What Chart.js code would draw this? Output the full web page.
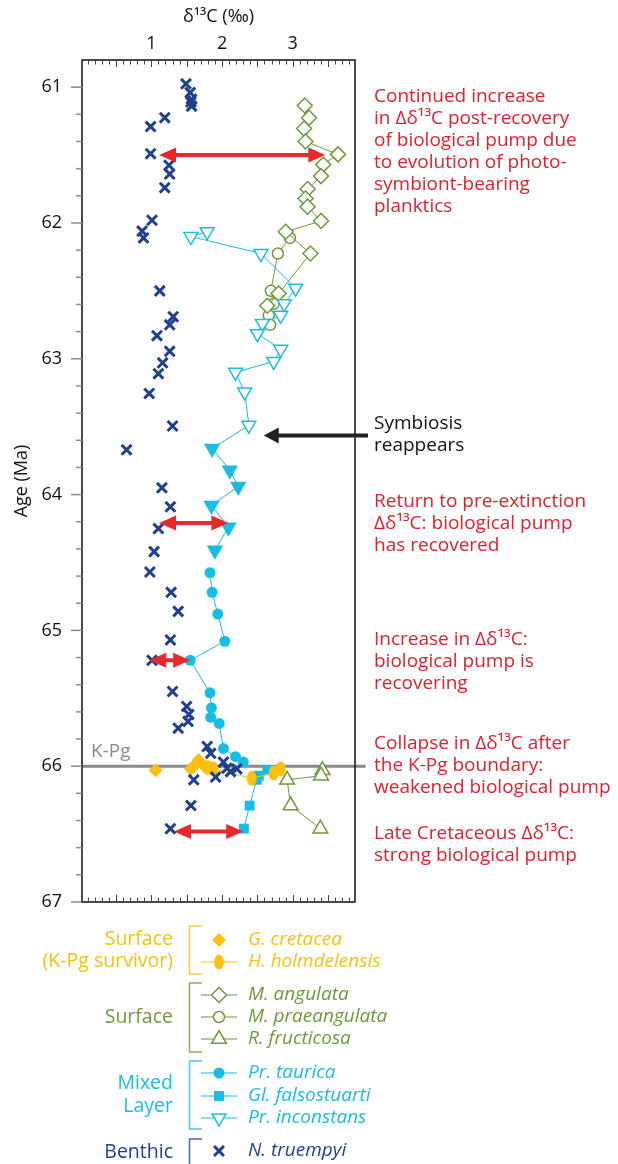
<!DOCTYPE html>
<html lang="en">
<head>
<meta charset="UTF-8">
<title>δ13C across the K-Pg boundary</title>
<script src="https://cdn.jsdelivr.net/npm/chart.js@4.4.1/dist/chart.umd.min.js"></script>
<style>
  html, body { margin: 0; padding: 0; background: #fff; }
  #wrap { position: relative; width: 618px; height: 1164px; }
</style>
</head>
<body>
<div id="wrap"><canvas id="myChart"></canvas></div>
<script>
// delta13C (per mil) against age (Ma)

// Benthic
const truempyiD13C = [1.49, 1.55, 1.57, 1.56, 1.57, 1.19, 0.99, 0.99, 1.25, 1.26, 1.19, 1.01, 0.87, 0.89,
  1.12, 1.31, 1.26, 1.08, 1.26, 1.16, 1.10, 0.97, 1.30, 0.65, 1.15, 1.27, 1.10, 1.04, 0.98, 1.28, 1.38,
  1.27, 1.01, 1.30, 1.50, 1.53, 1.52, 1.38, 1.79, 1.84, 2.02, 2.07, 2.12, 2.21, 1.91, 1.60, 1.56, 1.27];
const truempyiAge = [60.975, 61.04, 61.09, 61.11, 61.14, 61.225, 61.29, 61.49, 61.575, 61.64, 61.74, 61.98, 62.06, 62.11,
  62.50, 62.69, 62.75, 62.83, 62.945, 63.03, 63.11, 63.255, 63.495, 63.67, 63.95, 64.09, 64.25, 64.42, 64.57, 64.72, 64.86,
  65.07, 65.22, 65.45, 65.56, 65.62, 65.67, 65.72, 65.855, 65.905, 65.97, 66.015, 66.04, 66.02, 66.08, 66.10, 66.29, 66.46];

// Surface (K-Pg survivor)
const cretaceaD13C = [1.06, 1.56, 1.62, 1.67, 1.75];
const cretaceaAge = [66.03, 66.02, 65.99, 65.955, 66.0];
const holmdelensisD13C = [1.80, 1.88, 2.42, 2.73, 2.83];
const holmdelensisAge = [66.01, 66.02, 66.09, 66.05, 66.02];

// Surface
const angulataD13C = [3.17, 3.23, 3.16, 3.18, 3.64, 3.43, 3.40, 3.21, 3.18, 3.21, 3.40, 2.90, 3.25, 2.80, 2.64];
const angulataAge = [61.135, 61.225, 61.305, 61.40, 61.495, 61.57, 61.655, 61.75, 61.82, 61.88, 61.985, 62.065, 62.225, 62.52, 62.61];
const praeangulataD13C = [2.96, 2.79, 2.69, 2.73, 2.66, 2.68];
const praeangulataAge = [62.11, 62.225, 62.50, 62.595, 62.68, 62.75];
const fructicosaD13C = [3.42, 3.40, 2.92, 2.97, 3.39];
const fructicosaAge = [66.03, 66.07, 66.10, 66.29, 66.46];

// Mixed layer
const tauricaD13C = [1.83, 1.86, 1.94, 2.04, 1.55, 1.83, 1.85, 1.84, 1.96, 2.02, 2.19, 2.30];
const tauricaAge = [64.575, 64.72, 64.88, 65.08, 65.22, 65.46, 65.57, 65.64, 65.685, 65.87, 65.93, 65.97];
const falsostuartiD13C = [2.64, 2.52, 2.49, 2.39, 2.31];
const falsostuartiAge = [66.03, 66.07, 66.10, 66.29, 66.46];
const inconstansD13C = [1.79, 1.56, 2.55, 3.04, 2.88, 2.83, 2.57, 2.50, 2.83, 2.73, 2.19, 2.32, 2.38,
  1.86, 2.11, 2.23, 1.85, 2.09, 1.90];
const inconstansAge = [62.065, 62.10, 62.225, 62.48, 62.595, 62.68, 62.74, 62.815, 62.93, 63.02, 63.10, 63.245, 63.49,
  63.66, 63.82, 63.94, 64.08, 64.24, 64.41];

const xTickLabels = [1, 2, 3];
const yTickLabels = [61, 62, 63, 64, 65, 66, 67];

// red double arrows (delta13C offset between benthic and planktic)
const arrowAge = [61.5, 64.21, 65.22, 66.48];
const arrowFrom = [1.11, 1.11, 0.97, 1.32];
const arrowTo = [3.46, 2.09, 1.55, 2.30];

const kpgAge = 66.0;
const symbiosisAge = 63.565;

const notes = [
  ['Continued increase', 'in Δδ¹³C post-recovery', 'of biological pump due', 'to evolution of photo-', 'symbiont-bearing', 'planktics'],
  ['Symbiosis', 'reappears'],
  ['Return to pre-extinction', 'Δδ¹³C: biological pump', 'has recovered'],
  ['Increase in Δδ¹³C:', 'biological pump is', 'recovering'],
  ['Collapse in Δδ¹³C after', 'the K-Pg boundary:', 'weakened biological pump'],
  ['Late Cretaceous Δδ¹³C:', 'strong biological pump']
];

const YELLOW = '#F8C10F';
const GREEN = '#6B9B3A';
const CYAN = '#17BDE5';
const BLUE = '#213F8F';
const RED = '#E8282B';
const RED_TEXT = '#E2202C';
const GREY = '#8a8a8a';
const FONT = '"Open Sans", sans-serif';

const pts = (xs, ys) => xs.map((x, i) => ({ x, y: ys[i] }));

function ovalMarker(w, h, color) {
  const c = document.createElement('canvas');
  c.width = w; c.height = h;
  const g = c.getContext('2d');
  g.fillStyle = color;
  g.beginPath();
  g.ellipse(w / 2, h / 2, w / 2 - 0.5, h / 2 - 0.5, 0, 0, Math.PI * 2);
  g.fill();
  return c;
}
const oval = ovalMarker(11, 16, YELLOW);

function series(label, xs, ys, color, style, extra) {
  return Object.assign({
    label,
    data: pts(xs, ys),
    showLine: true,
    borderColor: color,
    borderWidth: 1,
    pointStyle: style,
    pointBorderColor: color,
    pointBackgroundColor: color,
    pointBorderWidth: 1.5,
    pointRadius: 5,
    clip: false
  }, extra);
}

const datasets = [
  series('N. truempyi', truempyiD13C, truempyiAge, BLUE, 'crossRot', { showLine: false, pointRadius: 7, pointBorderWidth: 3 }),
  series('G. cretacea', cretaceaD13C, cretaceaAge, YELLOW, 'rectRot', { showLine: false, pointRadius: 7, pointBorderWidth: 0 }),
  series('H. holmdelensis', holmdelensisD13C, holmdelensisAge, YELLOW, oval, { pointBorderWidth: 0 }),
  series('Pr. taurica', tauricaD13C, tauricaAge, CYAN, 'circle', { pointRadius: 5.5, pointBorderWidth: 0 }),
  series('Gl. falsostuarti', falsostuartiD13C, falsostuartiAge, CYAN, 'rect', { pointRadius: 7, pointBorderWidth: 0 }),
  series('Pr. inconstans', inconstansD13C, inconstansAge, CYAN, 'triangle', {
    pointRadius: 8, pointRotation: 180,
    pointBackgroundColor: c => (c.raw && c.raw.y > symbiosisAge) ? CYAN : '#fff'
  }),
  series('M. angulata', angulataD13C, angulataAge, GREEN, 'rectRot', { pointRadius: 7.5, pointBackgroundColor: '#fff' }),
  series('M. praeangulata', praeangulataD13C, praeangulataAge, GREEN, 'circle', { pointRadius: 5.5, pointBackgroundColor: '#fff' }),
  series('R. fructicosa', fructicosaD13C, fructicosaAge, GREEN, 'triangle', { pointRadius: 8.5, pointBackgroundColor: '#fff' })
];

// legend layout: dataset label, row centre, drawn with line
const legendRows = [
  ['G. cretacea', 940, false], ['H. holmdelensis', 962, true],
  ['M. angulata', 995, true], ['M. praeangulata', 1017, true], ['R. fructicosa', 1039, true],
  ['Pr. taurica', 1073, true], ['Gl. falsostuarti', 1096, true], ['Pr. inconstans', 1118, true],
  ['N. truempyi', 1151, false]
];
const legendGroups = [
  { text: ['Surface', '(K-Pg survivor)'], ys: [939, 961], color: YELLOW, span: [926, 974] },
  { text: ['Surface'], ys: [1017], color: GREEN, span: [983, 1052] },
  { text: ['Mixed', 'Layer'], ys: [1083, 1106], color: CYAN, span: [1061, 1129] },
  { text: ['Benthic'], ys: [1152], color: BLUE, span: [1139, 1200] }
];

function arrowHead(ctx, tipX, y, dir, len, half) {
  ctx.beginPath();
  ctx.moveTo(tipX, y);
  ctx.lineTo(tipX - dir * len, y - half);
  ctx.lineTo(tipX - dir * len, y + half);
  ctx.closePath();
  ctx.fill();
}

const decor = {
  id: 'decor',
  beforeDatasetsDraw(chart) {
    const { ctx, chartArea: a, scales: { x, y } } = chart;
    const yk = y.getPixelForValue(kpgAge);
    ctx.save();
    ctx.strokeStyle = GREY;
    ctx.lineWidth = 3;
    ctx.beginPath();
    ctx.moveTo(a.left, yk);
    ctx.lineTo(x.getPixelForValue(4.03), yk);
    ctx.stroke();
    ctx.fillStyle = GREY;
    ctx.font = '19px ' + FONT;
    ctx.textBaseline = 'alphabetic';
    ctx.fillText('K-Pg', a.left + 9, yk - 9);
    ctx.restore();
  },
  afterDatasetsDraw(chart) {
    const { ctx, chartArea: a, scales: { x, y } } = chart;
    ctx.save();
    // frame
    ctx.strokeStyle = '#111';
    ctx.lineWidth = 1.5;
    ctx.strokeRect(a.left, a.top, a.right - a.left, a.bottom - a.top);
    // x ticks, inside, top and bottom
    ctx.strokeStyle = '#444';
    ctx.lineWidth = 1;
    for (let i = 1; i <= 38; i++) {
      const v = i / 10;
      const px = Math.round(x.getPixelForValue(v)) + 0.5;
      if (px <= a.left + 1 || px >= a.right - 1) continue;
      const len = i % 5 === 0 ? 7 : 4.5;
      ctx.beginPath();
      ctx.moveTo(px, a.top); ctx.lineTo(px, a.top + len);
      ctx.moveTo(px, a.bottom); ctx.lineTo(px, a.bottom - len);
      ctx.stroke();
    }
    // y ticks, outside left
    ctx.strokeStyle = GREY;
    ctx.lineWidth = 1.5;
    for (let i = 0; i <= 30; i++) {
      const v = 61 + i / 5;
      const py = y.getPixelForValue(v);
      const len = i % 5 === 0 ? 11 : 6;
      ctx.beginPath();
      ctx.moveTo(a.left - len, py); ctx.lineTo(a.left, py);
      ctx.stroke();
    }
    // red double arrows
    ctx.strokeStyle = RED;
    ctx.fillStyle = RED;
    ctx.lineWidth = 4;
    arrowAge.forEach((age, i) => {
      const py = y.getPixelForValue(age);
      const x1 = x.getPixelForValue(arrowFrom[i]);
      const x2 = x.getPixelForValue(arrowTo[i]);
      ctx.beginPath();
      ctx.moveTo(x1 + 10, py); ctx.lineTo(x2 - 10, py);
      ctx.stroke();
      arrowHead(ctx, x1, py, -1, 17, 7.5);
      arrowHead(ctx, x2, py, 1, 17, 7.5);
    });
    // black arrow: symbiosis reappears
    const ys = y.getPixelForValue(symbiosisAge);
    const tip = x.getPixelForValue(2.59);
    ctx.strokeStyle = '#222';
    ctx.fillStyle = '#222';
    ctx.lineWidth = 4;
    ctx.beginPath();
    ctx.moveTo(tip + 10, ys); ctx.lineTo(368, ys);
    ctx.stroke();
    arrowHead(ctx, tip, ys, -1, 15, 8);
    ctx.restore();
  },
  afterDraw(chart) {
    const { ctx } = chart;
    ctx.save();
    ctx.textBaseline = 'alphabetic';
    ctx.textAlign = 'left';
    ctx.font = '19px ' + FONT;
    const noteTops = [102, 429, 507, 645, 749, 839];
    notes.forEach((lines, i) => {
      ctx.fillStyle = i === 1 ? '#111' : RED_TEXT;
      lines.forEach((t, k) => ctx.fillText(t, 374, noteTops[i] + k * 22));
    });

    // legend groups with brackets
    ctx.textBaseline = 'middle';
    ctx.font = '19.5px ' + FONT;
    legendGroups.forEach(g => {
      ctx.fillStyle = g.color;
      ctx.textAlign = 'right';
      g.text.forEach((t, k) => ctx.fillText(t, 173, g.ys[k]));
      ctx.strokeStyle = g.color;
      ctx.globalAlpha = 0.8;
      ctx.lineWidth = 1.5;
      ctx.beginPath();
      ctx.moveTo(202, g.span[0]); ctx.lineTo(189.5, g.span[0]); ctx.lineTo(189.5, g.span[1]); ctx.lineTo(202, g.span[1]);
      ctx.stroke();
      ctx.globalAlpha = 1;
    });

    // legend rows, symbols taken from the datasets
    ctx.textAlign = 'left';
    ctx.font = 'italic 19px ' + FONT;
    legendRows.forEach(([label, ry, withLine]) => {
      const ds = datasets.find(d => d.label === label);
      const color = ds.borderColor;
      if (withLine) {
        ctx.strokeStyle = color;
        ctx.lineWidth = 1;
        ctx.beginPath();
        ctx.moveTo(201, ry); ctx.lineTo(237, ry);
        ctx.stroke();
      }
      const filled = typeof ds.pointBackgroundColor === 'function' ? '#fff' : ds.pointBackgroundColor;
      ctx.fillStyle = filled;
      ctx.strokeStyle = color;
      ctx.lineWidth = ds.pointBorderWidth;
      Chart.helpers.drawPoint(ctx, {
        pointStyle: ds.pointStyle,
        radius: ds.pointRadius,
        rotation: ds.pointRotation || 0,
        borderWidth: ds.pointBorderWidth
      }, 219, ry);
      ctx.fillStyle = color;
      ctx.fillText(label, 248, ry);
    });
    ctx.restore();
  }
};

const ctx = document.getElementById('myChart').getContext('2d');
const myChart = new Chart(ctx, {
  type: 'scatter',
  data: { datasets },
  options: {
    responsive: true,
    maintainAspectRatio: false,
    animation: false,
    events: [],
    layout: { padding: { left: 0, top: 0, right: 263, bottom: 262 } },
    plugins: { legend: { display: false }, tooltip: { enabled: false } },
    scales: {
      x: {
        type: 'linear',
        position: 'top',
        min: 0.02,
        max: 3.88,
        grid: { display: false, drawTicks: false },
        border: { display: false },
        afterBuildTicks: s => { s.ticks = xTickLabels.map(v => ({ value: v })); },
        afterFit: s => { s.height = 60; },
        ticks: { color: '#111', font: { family: FONT, size: 18 }, padding: 5, maxRotation: 0, callback: v => String(v) },
        title: { display: true, text: 'δ¹³C (‰)', color: '#111', font: { family: FONT, size: 18 }, padding: { top: 6, bottom: 0 } }
      },
      y: {
        type: 'linear',
        reverse: true,
        min: 60.8,
        max: 67,
        grid: { display: false, drawTicks: false },
        border: { display: false },
        afterBuildTicks: s => { s.ticks = yTickLabels.map(v => ({ value: v })); },
        afterFit: s => { s.width = 82; },
        ticks: { color: '#111', font: { family: FONT, size: 18 }, padding: 20, callback: v => String(v) },
        title: { display: true, text: 'Age (Ma)', color: '#111', font: { family: FONT, size: 18 }, padding: { top: 11, bottom: 0 } }
      }
    }
  },
  plugins: [decor]
});
</script>
</body>
</html>
